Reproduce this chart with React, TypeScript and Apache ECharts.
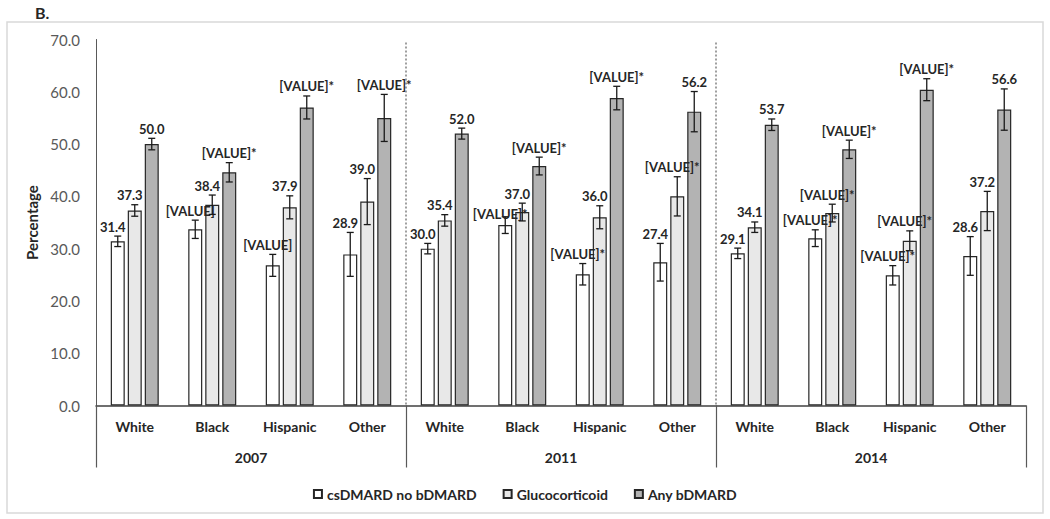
import React, { useEffect, useRef } from "react";
import * as echarts from "echarts";

const races = ["White", "Black", "Hispanic", "Other"];
const years = ["2007", "2011", "2014"];
const seriesNames = ["csDMARD no bDMARD", "Glucocorticoid", "Any bDMARD"];

const csValues = [31.4, 33.7, 26.8, 28.9, 30.0, 34.5, 25.1, 27.4, 29.1, 32.0, 24.9, 28.6];
const csErrors = [1.0, 1.75, 2.1, 4.2, 1.0, 1.6, 2.05, 3.6, 1.0, 1.6, 1.85, 3.7];
const csLabels = ["31.4", "[VALUE]", "[VALUE]", "28.9", "30.0", "[VALUE]*", "[VALUE]*", "27.4", "29.1", "[VALUE]*", "[VALUE]*", "28.6"];

const glucoValues = [37.3, 38.4, 37.9, 39.0, 35.4, 37.0, 36.0, 40.0, 34.1, 36.8, 31.5, 37.2];
const glucoErrors = [1.1, 1.85, 2.2, 4.4, 1.1, 1.7, 2.2, 3.75, 1.0, 1.7, 1.9, 3.75];
const glucoLabels = ["37.3", "38.4", "37.9", "39.0", "35.4", "37.0", "36.0", "[VALUE]*", "34.1", "[VALUE]*", "[VALUE]*", "37.2"];

const bValues = [50.0, 44.6, 57.0, 55.0, 52.0, 45.8, 58.8, 56.2, 53.7, 49.0, 60.4, 56.6];
const bErrors = [1.1, 1.85, 2.2, 4.5, 1.05, 1.7, 2.25, 3.85, 1.1, 1.75, 2.1, 3.95];
const bLabels = ["50.0", "[VALUE]*", "[VALUE]*", "[VALUE]*", "52.0", "[VALUE]*", "[VALUE]*", "56.2", "53.7", "[VALUE]*", "[VALUE]*", "56.6"];

const yTicks = { min: 0, max: 70, interval: 10 };

// style settings
const FONT = "Lato, 'Open Sans', sans-serif";
const BAR_W = 14;
const BAR_GAP = 3;
const fills = ["#ffffff", "#e8e8e8", "#b3b3b3"];
const labelShiftX = [-5, -5, 0];
// manual label nudges (series-index, category-index) -> extra downward shift in px
const labelNudge: Record<string, number> = { "0-5": 7 };

export default function App() {
  const ref = useRef<HTMLDivElement>(null);

  useEffect(() => {
    if (!ref.current) return;
    const chart = echarts.init(ref.current, undefined, { renderer: "svg" });
    const categories: string[] = [];
    years.forEach(() => races.forEach((r) => categories.push(r)));
    const boundaries = years.slice(1).map((_, k) => [(k + 1) * races.length, 0]);

    const groups = [
      { values: csValues, errors: csErrors, labels: csLabels },
      { values: glucoValues, errors: glucoErrors, labels: glucoLabels },
      { values: bValues, errors: bErrors, labels: bLabels },
    ];

    const barSeries = groups.map((g, s) => ({
      name: seriesNames[s],
      type: "bar",
      xAxisIndex: 0,
      data: g.values,
      barWidth: BAR_W,
      barGap: `${(BAR_GAP / BAR_W) * 100}%`,
      itemStyle: { color: fills[s], borderColor: "#262626", borderWidth: 1.2 },
      z: 2,
    }));

    const errSeries = groups.map((g, s) => {
      const offset = (s - 1) * (BAR_W + BAR_GAP);
      return {
        type: "custom",
        xAxisIndex: 0,
        z: 5,
        silent: true,
        data: g.values.map((v, i) => [i, v, g.errors[i]]),
        encode: { x: 0, y: 1 },
        renderItem: (params: any, api: any) => {
          const i = api.value(0);
          const v = api.value(1);
          const e = api.value(2);
          const top = api.coord([i, v + e]);
          const bot = api.coord([i, v - e]);
          const x = top[0] + offset;
          const cap = 3.5;
          const ls = { stroke: "#1a1a1a", lineWidth: 1.3 };
          const nudge = labelNudge[`${s}-${params.dataIndex}`] || 0;
          return {
            type: "group",
            children: [
              { type: "line", shape: { x1: x, y1: top[1], x2: x, y2: bot[1] }, style: ls },
              { type: "line", shape: { x1: x - cap, y1: top[1], x2: x + cap, y2: top[1] }, style: ls },
              { type: "line", shape: { x1: x - cap, y1: bot[1], x2: x + cap, y2: bot[1] }, style: ls },
              {
                type: "text",
                style: {
                  x: x + labelShiftX[s],
                  y: top[1] - 3 + nudge,
                  text: g.labels[params.dataIndex],
                  align: "center",
                  verticalAlign: "bottom",
                  fontFamily: FONT,
                  fontWeight: "bold",
                  fontSize: 13,
                  fill: "#262626",
                },
              },
            ],
          };
        },
      };
    });

    const separatorSeries = {
      type: "custom",
      xAxisIndex: 0,
      z: 1,
      silent: true,
      data: boundaries,
      encode: { x: 0, y: 1 },
      renderItem: (_params: any, api: any) => {
        const b = api.value(0);
        const p0 = api.coord([b, yTicks.min]);
        const p1 = api.coord([b, yTicks.max]);
        const w = api.size([1, 0])[0];
        const x = p0[0] - w / 2;
        return {
          type: "line",
          shape: { x1: x, y1: p1[1] + 3, x2: x, y2: p0[1] },
          style: { stroke: "#808080", lineWidth: 1.5, lineDash: [2, 2] },
        };
      },
    };

    chart.setOption({
      animation: false,
      backgroundColor: "#ffffff",
      graphic: [
        {
          type: "rect",
          shape: { x: 7, y: 22, width: 1036, height: 491 },
          style: { fill: "none", stroke: "#d9d9d9", lineWidth: 1.5 },
          silent: true,
        },
        {
          type: "text",
          style: { x: 35, y: 12, text: "B.", fontFamily: FONT, fontWeight: "bold", fontSize: 16, fill: "#262626", verticalAlign: "middle" },
        },
      ],
      grid: { left: 96, right: 24, top: 39.5, bottom: 113.5, containLabel: false },
      legend: {
        data: seriesNames,
        left: "center",
        top: 482,
        icon: "rect",
        itemWidth: 8,
        itemHeight: 8,
        itemGap: 26,
        textStyle: { fontFamily: FONT, fontWeight: "bold", fontSize: 14, color: "#262626" },
      },
      xAxis: [
        {
          type: "category",
          data: categories,
          position: "bottom",
          offset: 0,
          axisLine: { show: true, lineStyle: { color: "#404040", width: 1.5 } },
          axisTick: { show: false },
          axisLabel: { margin: 14, fontFamily: FONT, fontWeight: "bold", fontSize: 14, color: "#262626", interval: 0 },
          splitLine: { show: false },
        },
        {
          type: "category",
          data: years,
          position: "bottom",
          offset: 0,
          axisLine: { show: false },
          axisTick: { show: true, length: 62, lineStyle: { color: "#595959", width: 1.2 } },
          axisLabel: { margin: 45, fontFamily: FONT, fontWeight: "bold", fontSize: 14, color: "#262626" },
          splitLine: { show: false },
        },
      ],
      yAxis: {
        type: "value",
        min: yTicks.min,
        max: yTicks.max,
        interval: yTicks.interval,
        name: "Percentage",
        nameLocation: "middle",
        nameGap: 52,
        nameTextStyle: { fontFamily: FONT, fontWeight: "bold", fontSize: 15, color: "#262626" },
        axisLine: { show: true, lineStyle: { color: "#595959", width: 1 } },
        axisTick: { show: false },
        splitLine: { show: false },
        axisLabel: {
          margin: 16,
          fontFamily: FONT,
          fontSize: 15,
          color: "#595959",
          formatter: (v: number) => v.toFixed(1),
        },
      },
      series: [separatorSeries, ...barSeries, ...errSeries],
    });
    return () => chart.dispose();
  }, []);

  return (
    <div
      ref={ref}
      style={{ position: "fixed", left: 0, top: 0, width: 1050, height: 519, background: "#ffffff" }}
    />
  );
}
